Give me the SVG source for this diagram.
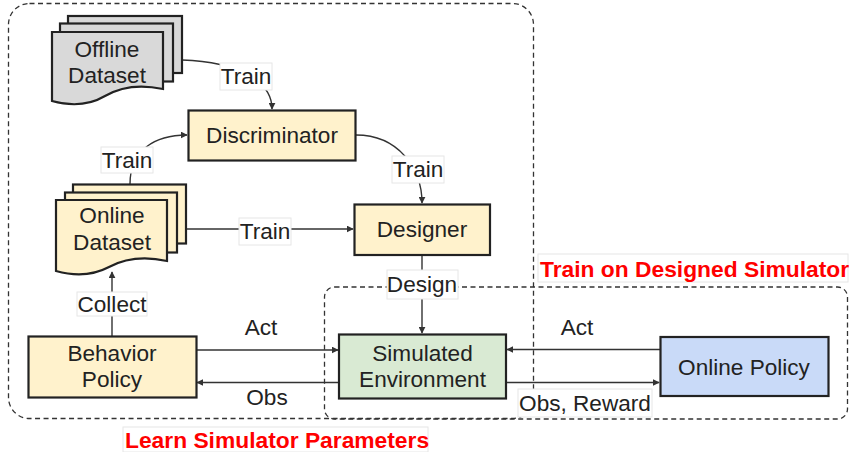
<svg xmlns="http://www.w3.org/2000/svg" width="849" height="452" viewBox="0 0 849 452">
  <defs>
    <marker id="arrow" viewBox="0 0 10 10" refX="9" refY="5" markerWidth="7" markerHeight="7" markerUnits="userSpaceOnUse" orient="auto">
      <path d="M0,0 L10,5 L0,10 Z" fill="#333"/>
    </marker>
  </defs>
  <style>
    text { font-family: "Liberation Sans", Arial, sans-serif; font-size: 22.6px; fill: #222; text-anchor: middle; }
    .title { font-size: 22.8px; font-weight: bold; fill: #ff0000; text-anchor: start; }
    .node { stroke: #222; stroke-width: 2.2; }
    .yellow { fill: #fff2cc; }
    .grey { fill: #d9d9d9; }
    .green { fill: #d9ead3; }
    .blue { fill: #c9daf8; }
    .edge { fill: none; stroke: #333; stroke-width: 1.4; }
    .group { fill: none; stroke: #333; stroke-width: 1.3; stroke-dasharray: 5 3.5; }
    .lbl { fill: #fff; stroke: #e6e6e6; stroke-width: 1; }
  </style>

  <!-- group outlines -->
  <g id="groups">
    <rect class="group" x="8.5" y="3.5" width="525" height="415" rx="21" ry="21"/>
    <rect class="group" x="324.5" y="287" width="523" height="132" rx="10" ry="10"/>
    <rect class="lbl" x="123" y="427" width="305" height="25"/>
    <text class="title" x="125" y="448">Learn Simulator Parameters</text>
    <rect class="lbl" x="538" y="254" width="310" height="28"/>
    <text class="title" x="540" y="277">Train on Designed Simulator</text>
  </g>

  <!-- connectors -->
  <g id="connectors">
    <path class="edge" d="M182,60 C240,62 272,82 272,109" marker-end="url(#arrow)"/>
    <path class="edge" d="M130,184 C130,150 155,135 187,135" marker-end="url(#arrow)"/>
    <path class="edge" d="M356,135 C398,135 422,168 422,203" marker-end="url(#arrow)"/>
    <path class="edge" d="M185,229 H353" marker-end="url(#arrow)"/>
    <path class="edge" d="M112,336 V272" marker-end="url(#arrow)"/>
    <path class="edge" d="M422,255 V333" marker-end="url(#arrow)"/>
    <path class="edge" d="M197,350 H338" marker-end="url(#arrow)"/>
    <path class="edge" d="M339,382.5 H197" marker-end="url(#arrow)"/>
    <path class="edge" d="M660,349.5 H507" marker-end="url(#arrow)"/>
    <path class="edge" d="M506,382.5 H659" marker-end="url(#arrow)"/>

    <rect class="lbl" x="220" y="63" width="52" height="27"/>
    <text x="246" y="84">Train</text>
    <rect class="lbl" x="101" y="147" width="52" height="26"/>
    <text x="127" y="168">Train</text>
    <rect class="lbl" x="392" y="156" width="52" height="27"/>
    <text x="418" y="177">Train</text>
    <rect class="lbl" x="239" y="218" width="52" height="27"/>
    <text x="265" y="239">Train</text>
    <rect class="lbl" x="77" y="292" width="70" height="24"/>
    <text x="112" y="312">Collect</text>
    <rect class="lbl" x="387" y="270" width="71" height="29"/>
    <text x="422" y="292">Design</text>
    <text x="261" y="335">Act</text>
    <text x="267" y="405">Obs</text>
    <text x="577" y="335">Act</text>
    <rect class="lbl" x="518" y="389" width="134" height="28"/>
    <text x="585" y="411">Obs, Reward</text>
  </g>

  <g id="offline-dataset">
    <rect class="node grey" x="68" y="16" width="114" height="57"/>
    <rect class="node grey" x="60" y="23.5" width="113" height="58"/>
    <path class="node grey" d="M52,32 H163 V89 C140,84 122,86 105,96 C88,106 70,106 52,101 Z"/>
    <text x="107" y="57">Offline</text>
    <text x="107" y="83">Dataset</text>
  </g>

  <g id="online-dataset">
    <rect class="node yellow" x="73" y="184.5" width="113" height="59"/>
    <rect class="node yellow" x="65" y="192.5" width="112" height="60"/>
    <path class="node yellow" d="M56,200 H167 V261 C144,256 126,258 109,267 C92,276 74,276 56,271 Z"/>
    <text x="112" y="223">Online</text>
    <text x="112" y="250">Dataset</text>
  </g>

  <g id="discriminator">
    <rect class="node yellow" x="188.5" y="110.5" width="167" height="50"/>
    <text x="272" y="143">Discriminator</text>
  </g>

  <g id="designer">
    <rect class="node yellow" x="354.5" y="204.5" width="135.5" height="50.5"/>
    <text x="422" y="237">Designer</text>
  </g>

  <g id="behavior-policy">
    <rect class="node yellow" x="28.5" y="336.5" width="168" height="61"/>
    <text x="112" y="361">Behavior</text>
    <text x="112" y="387">Policy</text>
  </g>

  <g id="simulated-environment">
    <rect class="node green" x="339" y="334.5" width="167" height="64"/>
    <text x="422.5" y="361">Simulated</text>
    <text x="422.5" y="387">Environment</text>
  </g>

  <g id="online-policy">
    <rect class="node blue" x="660.5" y="337" width="168" height="59"/>
    <text x="744" y="375">Online Policy</text>
  </g>
</svg>
